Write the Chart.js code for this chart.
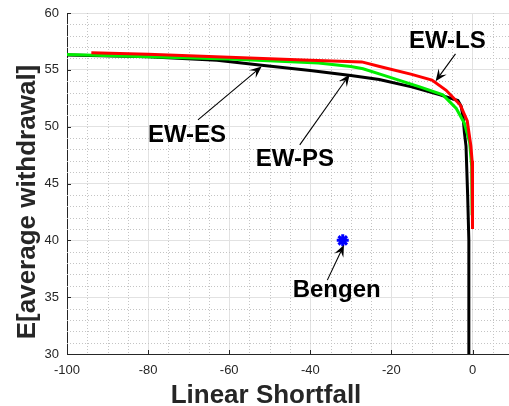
<!DOCTYPE html>
<html>
<head>
<meta charset="utf-8">
<script src="https://cdn.jsdelivr.net/npm/chart.js@4"></script>
<style>
  html, body { margin: 0; padding: 0; background: #ffffff; }
  #wrap { width: 509px; height: 406px; position: relative; }
</style>
</head>
<body>
<div id="wrap"><canvas id="c" width="509" height="406"></canvas></div>
<script>
// Efficient frontiers: expected average withdrawal vs. linear shortfall
const esX = [-100, -80, -63, -52, -40, -30, -23, -15, -8, -3.6, -2.8, -2.3, -2.0, -1.6, -1.2, -0.9, -0.9];
const esY = [56.3, 56.15, 55.85, 55.4, 54.95, 54.5, 54.15, 53.5, 52.8, 52.3, 51.8, 50.8, 49.5, 48.3, 44.0, 40.0, 30.0];

const psX = [-100, -80, -60, -38, -30, -27, -23, -13, -7.3, -4, -2, -0.7, -0.2, -0.1];
const psY = [56.35, 56.15, 55.95, 55.6, 55.3, 55.1, 54.65, 53.5, 52.8, 51.6, 50.3, 48.6, 46.5, 42.2];

const lsX = [-94, -80, -60, -40, -27.3, -22.9, -15, -10, -6.5, -3, -1.3, -0.4, -0.1, 0];
const lsY = [56.5, 56.37, 56.1, 55.85, 55.7, 55.3, 54.6, 54.1, 53.2, 51.9, 50.5, 48.3, 47.0, 41.0];

const bengenX = [-32];
const bengenY = [40];

const xTicks = [-100, -80, -60, -40, -20, 0];
const yTicks = [30, 35, 40, 45, 50, 55, 60];

// Callouts: label text, label anchor, arrow tail, arrow tip (data units)
const callouts = [
  { text: 'EW-LS',  at: [-6.2, 57.5],  tail: [-4.2, 56.4],  tip: [-9.1, 54.0] },
  { text: 'EW-ES',  at: [-70.4, 49.2], tail: [-67.7, 50.6], tip: [-52.0, 55.3] },
  { text: 'EW-PS',  at: [-43.8, 47.1], tail: [-42.6, 48.4], tip: [-30.3, 54.6] },
  { text: 'Bengen', at: [-33.5, 35.6], tail: [-35.8, 36.5], tip: [-31.7, 39.6] }
];

const pts = (xs, ys) => xs.map((x, i) => ({ x: x, y: ys[i] }));

const FONT = '"Liberation Sans", Arial, Helvetica, sans-serif';

const decorations = {
  id: 'decorations',
  beforeDatasetsDraw(chart) {
    const { ctx, chartArea: a, scales: { x, y } } = chart;
    ctx.save();
    ctx.strokeStyle = '#c4c4c4';
    ctx.lineWidth = 1;
    ctx.setLineDash([1, 2]);
    ctx.beginPath();
    for (let v = -95; v <= 5; v += 5) {
      if (v % 20 === 0) continue;
      const px = Math.round(x.getPixelForValue(v)) + 0.5;
      ctx.moveTo(px, a.top); ctx.lineTo(px, a.bottom);
    }
    for (let v = 31; v < 60; v += 1) {
      if (v % 5 === 0) continue;
      const py = Math.round(y.getPixelForValue(v)) + 0.5;
      ctx.moveTo(a.left, py); ctx.lineTo(a.right, py);
    }
    ctx.stroke();
    ctx.setLineDash([]);
    // inward tick marks
    ctx.strokeStyle = '#262626';
    ctx.beginPath();
    xTicks.forEach(v => {
      const px = Math.round(x.getPixelForValue(v)) + 0.5;
      ctx.moveTo(px, a.bottom); ctx.lineTo(px, a.bottom - 4);
    });
    yTicks.forEach(v => {
      const py = Math.round(y.getPixelForValue(v)) + 0.5;
      ctx.moveTo(a.left, py); ctx.lineTo(a.left + 4, py);
    });
    ctx.stroke();
    ctx.restore();
  },
  afterDatasetsDraw(chart) {
    const { ctx, scales: { x, y } } = chart;
    ctx.save();
    callouts.forEach(c => {
      const tx = x.getPixelForValue(c.tail[0]), ty = y.getPixelForValue(c.tail[1]);
      const hx = x.getPixelForValue(c.tip[0]),  hy = y.getPixelForValue(c.tip[1]);
      const ang = Math.atan2(hy - ty, hx - tx);
      const L = 12, W = 5;
      const bx = hx - L * Math.cos(ang), by = hy - L * Math.sin(ang);
      const nx = hx - 0.6 * L * Math.cos(ang), ny = hy - 0.6 * L * Math.sin(ang);
      ctx.strokeStyle = '#000';
      ctx.lineWidth = 1.1;
      ctx.beginPath();
      ctx.moveTo(tx, ty); ctx.lineTo(nx, ny);
      ctx.stroke();
      ctx.fillStyle = '#000';
      ctx.beginPath();
      ctx.moveTo(hx, hy);
      ctx.lineTo(bx - W * Math.sin(ang), by + W * Math.cos(ang));
      ctx.lineTo(nx, ny);
      ctx.lineTo(bx + W * Math.sin(ang), by - W * Math.cos(ang));
      ctx.closePath();
      ctx.fill();
      ctx.font = 'bold 24px ' + FONT;
      ctx.textAlign = 'center';
      ctx.textBaseline = 'middle';
      ctx.fillText(c.text, x.getPixelForValue(c.at[0]), y.getPixelForValue(c.at[1]));
    });
    ctx.restore();
  },
  afterDraw(chart) {
    const { ctx } = chart;
    ctx.save();
    ctx.fillStyle = '#262626';
    ctx.font = 'bold 26px ' + FONT;
    ctx.textAlign = 'center';
    ctx.textBaseline = 'alphabetic';
    ctx.fillText('Linear Shortfall', 266, 403);
    ctx.translate(35, 202);
    ctx.rotate(-Math.PI / 2);
    ctx.font = 'bold 26px ' + FONT;
    ctx.fillText('E[average withdrawal]', 0, 0);
    ctx.restore();
  }
};

new Chart(document.getElementById('c'), {
  type: 'scatter',
  data: {
    datasets: [
      { label: 'Bengen', data: pts(bengenX, bengenY), order: 0, showLine: false,
        pointStyle: 'star', pointRadius: 6, borderColor: '#0000ff', backgroundColor: '#0000ff', borderWidth: 3 },
      { label: 'EW-LS', data: pts(lsX, lsY), order: 1, showLine: true, borderColor: '#ff0000',
        borderWidth: 3, pointRadius: 0, tension: 0 },
      { label: 'EW-PS', data: pts(psX, psY), order: 2, showLine: true, borderColor: '#00ee00',
        borderWidth: 3, pointRadius: 0, tension: 0 },
      { label: 'EW-ES', data: pts(esX, esY), order: 3, showLine: true, borderColor: '#000000',
        borderWidth: 3, pointRadius: 0, tension: 0 }
    ]
  },
  options: {
    responsive: false,
    animation: false,
    events: [],
    layout: { autoPadding: false, padding: { top: 13, right: 0, left: 0, bottom: 0 } },
    plugins: { legend: { display: false }, tooltip: { enabled: false } },
    scales: {
      x: {
        type: 'linear', min: -100, max: 9,
        afterBuildTicks: s => { s.ticks = xTicks.map(v => ({ value: v })); },
        afterFit: s => { s.height = 52; s.paddingLeft = 0; s.paddingRight = 0; },
        grid: { color: '#e2e2e2', lineWidth: 1, drawTicks: false },
        border: { display: true, color: '#262626', width: 1 },
        ticks: { padding: 9, color: '#262626', font: { family: FONT, size: 13 }, maxRotation: 0 }
      },
      y: {
        type: 'linear', min: 30, max: 60,
        afterBuildTicks: s => { s.ticks = yTicks.map(v => ({ value: v })); },
        afterFit: s => { s.width = 67; s.paddingTop = 0; s.paddingBottom = 0; },
        grid: { color: '#e2e2e2', lineWidth: 1, drawTicks: false },
        border: { display: true, color: '#262626', width: 1 },
        ticks: { padding: 8, color: '#262626', font: { family: FONT, size: 13 } }
      }
    }
  },
  plugins: [decorations]
});
</script>
</body>
</html>
